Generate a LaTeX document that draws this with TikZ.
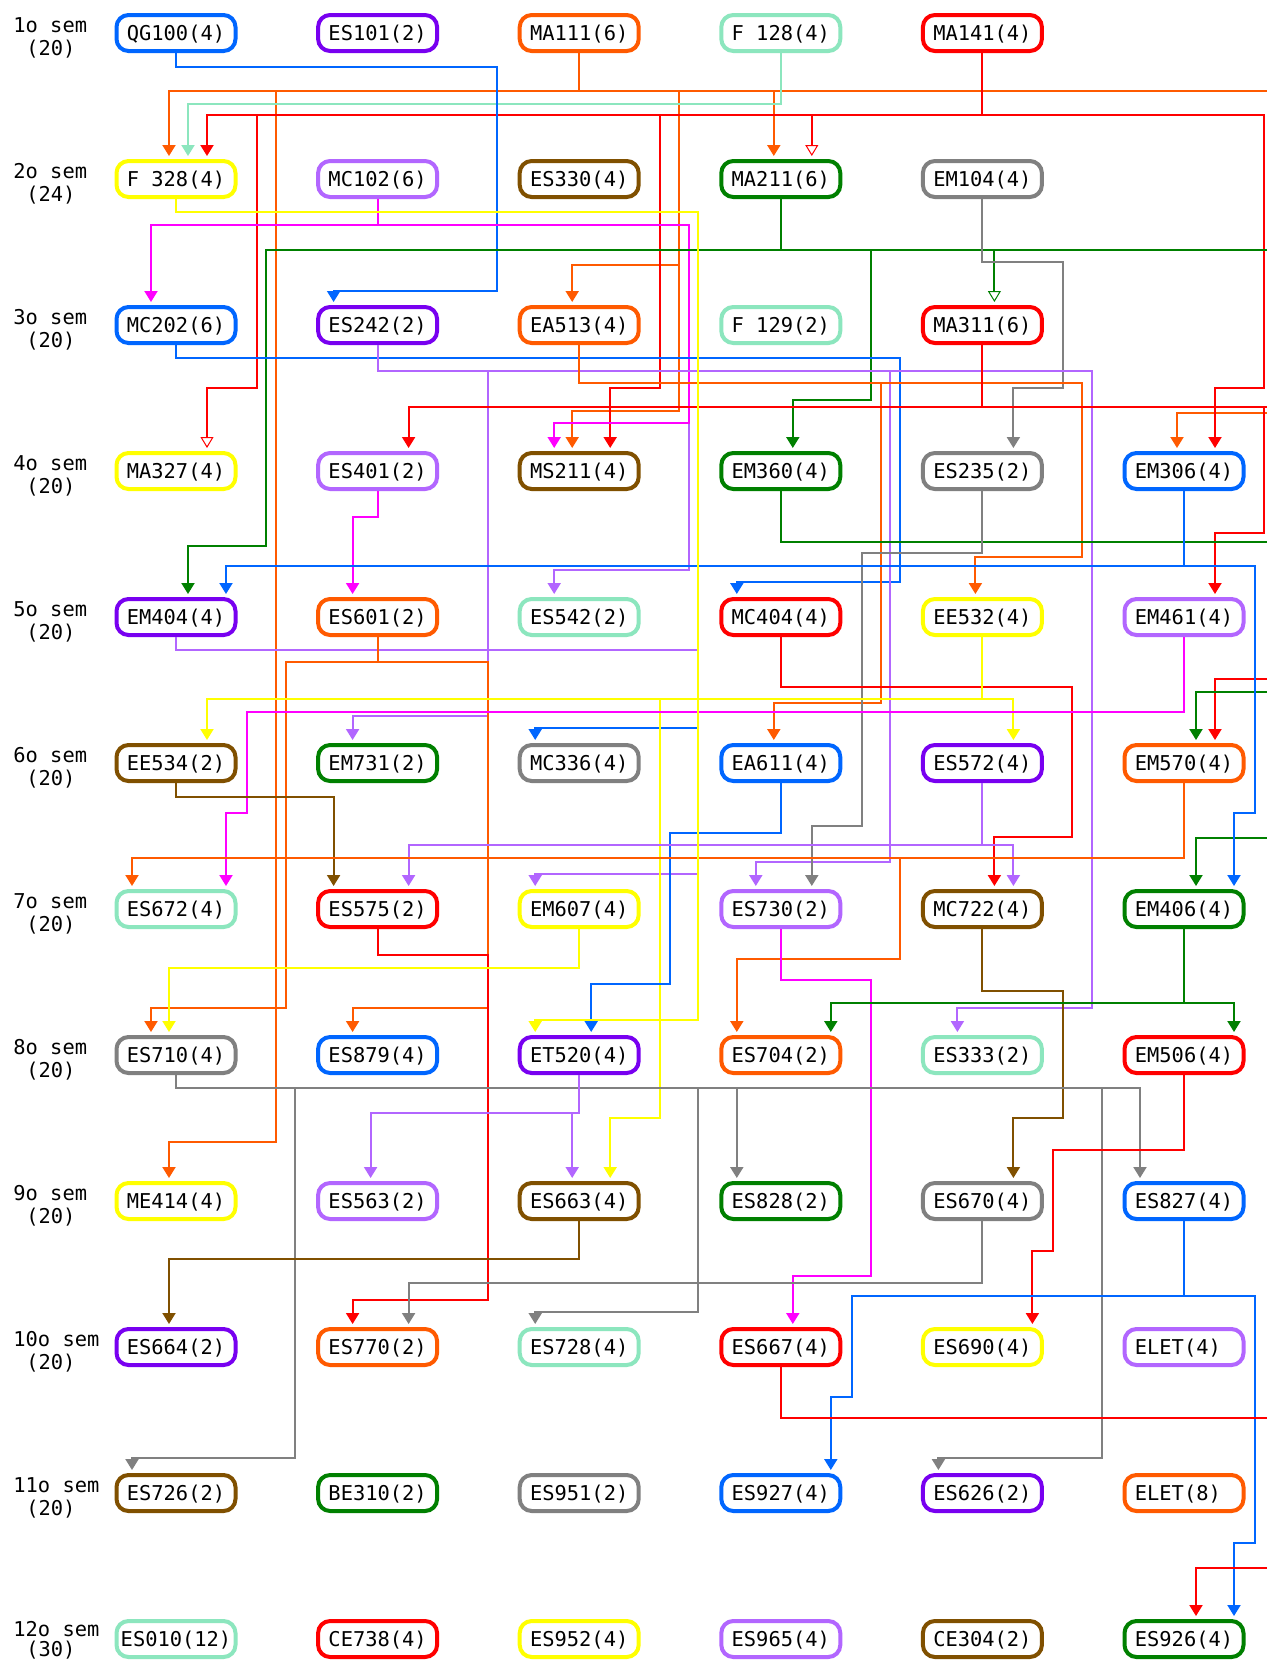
\documentclass[tikz,border=0pt]{standalone}
\usepackage{fontspec}
\newfontfamily\monof{DejaVu Sans Mono}
\usetikzlibrary{arrows.meta}
\definecolor{cblue}{RGB}{0,102,255}
\definecolor{cpurple}{RGB}{120,0,240}
\definecolor{corange}{RGB}{255,90,0}
\definecolor{cmint}{RGB}{140,230,190}
\definecolor{cred}{RGB}{255,0,0}
\definecolor{cyellow}{RGB}{255,255,0}
\definecolor{clav}{RGB}{178,102,255}
\definecolor{cbrown}{RGB}{128,80,0}
\definecolor{cgreen}{RGB}{0,128,0}
\definecolor{cgray}{RGB}{128,128,128}
\definecolor{cmag}{RGB}{255,0,255}
\newcommand\linkA[6]{\draw[#1=#2] (#3.south) -- (#3.south |- 0,#4) -| ([shift={(#6,-3)}]#5.north);}
\newcommand\linkB[8]{\draw[#1=#2] (#3.south) |- (#4,#5) -- (#4,#6) -| ([shift={(#8,-3)}]#7.north);}
\begin{document}
\begin{tikzpicture}[x=0.5pt,y=-0.5pt,
  box/.style={draw=#1, line width=2pt, rounded corners=6pt, fill=white,
    minimum width=59.5pt, minimum height=18pt, inner sep=0pt,
    font=\monof\fontsize{10.2pt}{12pt}\selectfont, text height=8pt, text depth=1pt},
  con/.style={draw=#1, line width=1pt, -{Triangle[length=5.5pt,width=6.5pt]}},
  ocon/.style={draw=#1, line width=1pt, -{Triangle[open,fill=white,line width=0.5pt,length=5.5pt,width=6.5pt]}},
  lbl/.style={font=\monof\fontsize{10.2pt}{12pt}\selectfont, inner sep=0pt, anchor=base west}]
\useasboundingbox (0,0) rectangle (1267,1662);
\clip (0,0) rectangle (1267,1662);
\fill[white] (0,0) rectangle (1267,1662);
% semester labels
\node[lbl] (s1a) at (13,32) {1o sem};   \node[lbl] (s1b) at (26,55) {(20)};
\node[lbl] (s2a) at (13,178) {2o sem};  \node[lbl] (s2b) at (26,201) {(24)};
\node[lbl] (s3a) at (13,324) {3o sem};  \node[lbl] (s3b) at (26,347) {(20)};
\node[lbl] (s4a) at (13,470) {4o sem};  \node[lbl] (s4b) at (26,493) {(20)};
\node[lbl] (s5a) at (13,616) {5o sem};  \node[lbl] (s5b) at (26,639) {(20)};
\node[lbl] (s6a) at (13,762) {6o sem};  \node[lbl] (s6b) at (26,785) {(20)};
\node[lbl] (s7a) at (13,908) {7o sem};  \node[lbl] (s7b) at (26,931) {(20)};
\node[lbl] (s8a) at (13,1054) {8o sem}; \node[lbl] (s8b) at (26,1077) {(20)};
\node[lbl] (s9a) at (13,1200) {9o sem}; \node[lbl] (s9b) at (26,1223) {(20)};
\node[lbl] (s10a) at (13,1346) {10o sem}; \node[lbl] (s10b) at (26,1369) {(20)};
\node[lbl] (s11a) at (13,1492) {11o sem}; \node[lbl] (s11b) at (26,1515) {(20)};
\node[lbl] (s12a) at (13,1636) {12o sem}; \node[lbl] (s12b) at (26,1656) {(30)};
% row 1
\node[box=cblue]   (QG100) at (176,33)    {QG100(4)};
\node[box=cpurple] (ES101) at (377.6,33)  {ES101(2)};
\node[box=corange] (MA111) at (579.2,33)  {MA111(6)};
\node[box=cmint]   (F128)  at (780.8,33)  {F 128(4)};
\node[box=cred]    (MA141) at (982.4,33)  {MA141(4)};
% row 2
\node[box=cyellow] (F328)  at (176,179)   {F 328(4)};
\node[box=clav]    (MC102) at (377.6,179) {MC102(6)};
\node[box=cbrown]  (ES330) at (579.2,179) {ES330(4)};
\node[box=cgreen]  (MA211) at (780.8,179) {MA211(6)};
\node[box=cgray]   (EM104) at (982.4,179) {EM104(4)};
% row 3
\node[box=cblue]   (MC202) at (176,325)   {MC202(6)};
\node[box=cpurple] (ES242) at (377.6,325) {ES242(2)};
\node[box=corange] (EA513) at (579.2,325) {EA513(4)};
\node[box=cmint]   (F129)  at (780.8,325) {F 129(2)};
\node[box=cred]    (MA311) at (982.4,325) {MA311(6)};
% row 4
\node[box=cyellow] (MA327) at (176,471)   {MA327(4)};
\node[box=clav]    (ES401) at (377.6,471) {ES401(2)};
\node[box=cbrown]  (MS211) at (579.2,471) {MS211(4)};
\node[box=cgreen]  (EM360) at (780.8,471) {EM360(4)};
\node[box=cgray]   (ES235) at (982.4,471) {ES235(2)};
\node[box=cblue]   (EM306) at (1184,471)  {EM306(4)};
% row 5
\node[box=cpurple] (EM404) at (176,617)   {EM404(4)};
\node[box=corange] (ES601) at (377.6,617) {ES601(2)};
\node[box=cmint]   (ES542) at (579.2,617) {ES542(2)};
\node[box=cred]    (MC404) at (780.8,617) {MC404(4)};
\node[box=cyellow] (EE532) at (982.4,617) {EE532(4)};
\node[box=clav]    (EM461) at (1184,617)  {EM461(4)};
% row 6
\node[box=cbrown]  (EE534) at (176,763)   {EE534(2)};
\node[box=cgreen]  (EM731) at (377.6,763) {EM731(2)};
\node[box=cgray]   (MC336) at (579.2,763) {MC336(4)};
\node[box=cblue]   (EA611) at (780.8,763) {EA611(4)};
\node[box=cpurple] (ES572) at (982.4,763) {ES572(4)};
\node[box=corange] (EM570) at (1184,763)  {EM570(4)};
% row 7
\node[box=cmint]   (ES672) at (176,909)   {ES672(4)};
\node[box=cred]    (ES575) at (377.6,909) {ES575(2)};
\node[box=cyellow] (EM607) at (579.2,909) {EM607(4)};
\node[box=clav]    (ES730) at (780.8,909) {ES730(2)};
\node[box=cbrown]  (MC722) at (982.4,909) {MC722(4)};
\node[box=cgreen]  (EM406) at (1184,909)  {EM406(4)};
% row 8
\node[box=cgray]   (ES710) at (176,1055)   {ES710(4)};
\node[box=cblue]   (ES879) at (377.6,1055) {ES879(4)};
\node[box=cpurple] (ET520) at (579.2,1055) {ET520(4)};
\node[box=corange] (ES704) at (780.8,1055) {ES704(2)};
\node[box=cmint]   (ES333) at (982.4,1055) {ES333(2)};
\node[box=cred]    (EM506) at (1184,1055)  {EM506(4)};
% row 9
\node[box=cyellow] (ME414) at (176,1201)   {ME414(4)};
\node[box=clav]    (ES563) at (377.6,1201) {ES563(2)};
\node[box=cbrown]  (ES663) at (579.2,1201) {ES663(4)};
\node[box=cgreen]  (ES828) at (780.8,1201) {ES828(2)};
\node[box=cgray]   (ES670) at (982.4,1201) {ES670(4)};
\node[box=cblue]   (ES827) at (1184,1201)  {ES827(4)};
% row 10
\node[box=cpurple] (ES664) at (176,1347)   {ES664(2)};
\node[box=corange] (ES770) at (377.6,1347) {ES770(2)};
\node[box=cmint]   (ES728) at (579.2,1347) {ES728(4)};
\node[box=cred]    (ES667) at (780.8,1347) {ES667(4)};
\node[box=cyellow] (ES690) at (982.4,1347) {ES690(4)};
\node[box=clav]    (ELETa) at (1184,1347)  {ELET(4)\hphantom{0}};
% row 11
\node[box=cbrown]  (ES726) at (176,1493)   {ES726(2)};
\node[box=cgreen]  (BE310) at (377.6,1493) {BE310(2)};
\node[box=cgray]   (ES951) at (579.2,1493) {ES951(2)};
\node[box=cblue]   (ES927) at (780.8,1493) {ES927(4)};
\node[box=cpurple] (ES626) at (982.4,1493) {ES626(2)};
\node[box=corange] (ELETb) at (1184,1493)  {ELET(8)\hphantom{0}};
% row 12
\node[box=cmint]   (ES010) at (176,1639)   {ES010(12)};
\node[box=cred]    (CE738) at (377.6,1639) {CE738(4)};
\node[box=cyellow] (ES952) at (579.2,1639) {ES952(4)};
\node[box=clav]    (ES965) at (780.8,1639) {ES965(4)};
\node[box=cbrown]  (CE304) at (982.4,1639) {CE304(2)};
\node[box=cgreen]  (ES926) at (1184,1639)  {ES926(4)};
% ---- connectors ----
\linkA{con}{corange}{MA111}{91}{F328}{-7}
\linkA{con}{corange}{MA111}{91}{MA211}{-7}
\linkB{con}{corange}{MA111}{679}{91}{265}{EA513}{-7}
\linkB{con}{corange}{MA111}{679}{91}{411}{MS211}{-7}
\linkB{con}{corange}{MA111}{276}{91}{1142}{ME414}{-7}
\linkB{con}{corange}{MA111}{1280}{91}{413}{EM306}{-7}
\linkA{con}{cmint}{F128}{104}{F328}{12}
\linkA{con}{cred}{MA141}{115}{F328}{31}
\linkB{ocon}{cred}{MA141}{257}{115}{388}{MA327}{31}
\linkB{con}{cred}{MA141}{660}{115}{388}{MS211}{31}
\linkA{ocon}{cred}{MA141}{115}{MA211}{31}
\linkB{con}{cred}{MA141}{1264}{115}{388}{EM306}{31}
\linkB{con}{cblue}{QG100}{497}{67}{291}{ES242}{-44}
\linkB{con}{clav}{ES242}{689}{371}{570}{ES542}{-25}
\linkA{con}{cmag}{MC102}{225}{MC202}{-25}
\linkB{con}{cmag}{MC102}{689}{225}{423}{MS211}{-25}
\linkB{con}{cgreen}{MA211}{266}{250}{546}{EM404}{12}
\linkB{con}{cgreen}{MA211}{871}{250}{400}{EM360}{12}
\linkA{ocon}{cgreen}{MA211}{250}{MA311}{12}
\draw[draw=cgreen, line width=1pt] (MA211.south) |- (1290,250) coordinate (offA);
\linkB{con}{cgray}{EM104}{1063}{262}{388}{ES235}{31}
\linkB{con}{cblue}{MC202}{900}{358}{582}{MC404}{-44}
\linkB{con}{clav}{ES242}{488}{371}{716}{EM731}{-25}
\linkB{con}{clav}{ES242}{890}{371}{862}{ES730}{-25}
\linkB{con}{clav}{ES242}{1092}{371}{1008}{ES333}{-25}
\linkB{con}{corange}{EA513}{881}{383}{703}{EA611}{-7}
\linkB{con}{corange}{EA513}{1082}{383}{557}{EE532}{-7}
\linkA{con}{cred}{MA311}{407}{ES401}{31}
\linkB{con}{cred}{MA311}{1264}{407}{533}{EM461}{31}
\linkB{con}{cred}{MA311}{1280}{407}{679}{EM570}{31}
\linkA{con}{cmag}{ES401}{517}{ES601}{-25}
\linkB{con}{cgreen}{EM360}{1280}{542}{692}{EM570}{12}
\linkB{con}{cgreen}{EM360}{1280}{542}{838}{EM406}{12}
\linkB{con}{cgray}{ES235}{862}{553}{826}{ES730}{31}
\linkA{con}{cblue}{EM306}{566}{EM404}{50}
\linkB{con}{cblue}{EM306}{698}{566}{728}{MC336}{-44}
\linkB{con}{cblue}{EM306}{1255}{566}{813}{EM406}{50}
\linkB{con}{clav}{EM404}{698}{650}{874}{EM607}{-44}
\linkB{con}{corange}{ES601}{488}{662}{1008}{ES879}{-25}
\linkB{con}{corange}{ES601}{286}{662}{1008}{ES710}{-25}
\linkB{con}{cred}{MC404}{1072}{687}{837}{MC722}{12}
\linkA{con}{cyellow}{EE532}{699}{EE534}{31}
\linkA{con}{cyellow}{EE532}{699}{ES572}{31}
\linkB{con}{cyellow}{EE532}{660}{699}{1118}{ES663}{31}
\linkB{con}{cmag}{EM461}{247}{712}{813}{ES672}{50}
\linkA{con}{cbrown}{EE534}{797}{ES575}{-44}
\linkB{con}{cblue}{EA611}{670}{833}{984}{ET520}{12}
\linkA{con}{clav}{ES572}{845}{ES575}{31}
\linkA{con}{clav}{ES572}{845}{MC722}{31}
\linkA{con}{corange}{EM570}{858}{ES672}{-44}
\linkB{con}{corange}{EM570}{900}{858}{959}{ES704}{-44}
\linkB{con}{cred}{ES575}{488}{955}{1300}{ES770}{-25}
\linkA{con}{cyellow}{EM607}{968}{ES710}{-7}
\linkB{con}{cmag}{ES730}{871}{980}{1276}{ES667}{12}
\linkB{con}{cbrown}{MC722}{1063}{991}{1118}{ES670}{31}
\linkA{con}{cgreen}{EM406}{1003}{ES704}{50}
\linkA{con}{cgreen}{EM406}{1003}{EM506}{50}
\linkB{con}{cgray}{ES710}{295}{1088}{1458}{ES726}{-44}
\linkB{con}{cgray}{ES710}{698}{1088}{1312}{ES728}{-44}
\linkA{con}{cgray}{ES710}{1088}{ES828}{-44}
\linkA{con}{cgray}{ES710}{1088}{ES827}{-44}
\linkB{con}{cgray}{ES710}{1102}{1088}{1458}{ES626}{-44}
\linkA{con}{clav}{ET520}{1113}{ES563}{-7}
\linkA{con}{clav}{ET520}{1113}{ES663}{-7}
\linkB{con}{cred}{EM506}{1053}{1150}{1251}{ES690}{50}
\linkA{con}{cbrown}{ES663}{1259}{ES664}{-7}
\linkA{con}{cgray}{ES670}{1283}{ES770}{31}
\linkB{con}{cblue}{ES827}{852}{1296}{1397}{ES927}{50}
\linkB{con}{cblue}{ES827}{1255}{1296}{1543}{ES926}{50}
\linkB{con}{cred}{ES667}{1280}{1418}{1568}{ES926}{12}
\linkB{con}{cyellow}{F328}{698}{212}{1020}{ET520}{-44}
\end{tikzpicture}
\end{document}
